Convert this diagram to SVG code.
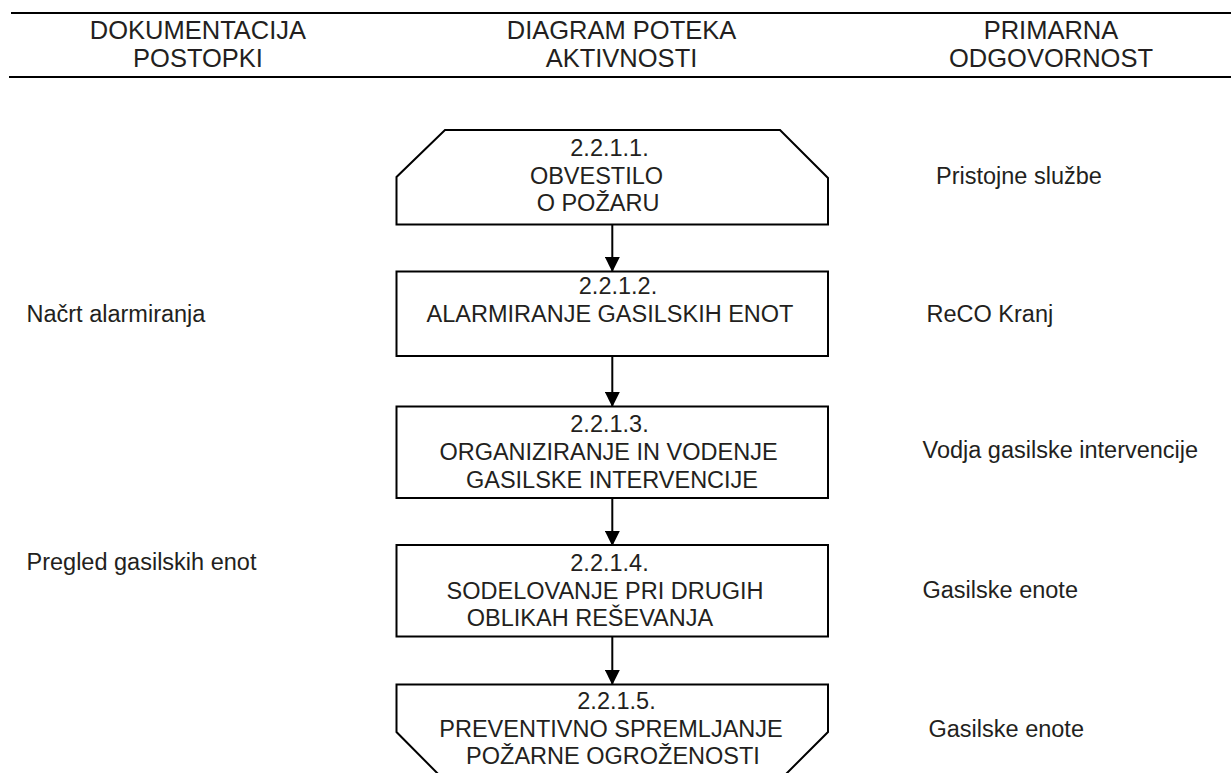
<svg xmlns="http://www.w3.org/2000/svg" width="1231" height="773" viewBox="0 0 1231 773">
<defs>
<style>
.t{font-family:"Liberation Sans",Arial,sans-serif;fill:#231f20;}
.h{font-size:25.5px;text-anchor:middle;}
.b{font-size:23.5px;}
.c{text-anchor:middle;}
.box{fill:none;stroke:#000;stroke-width:2;}
.rule{stroke:#000;stroke-width:2.2;}
.con{stroke:#000;stroke-width:2;fill:none;}
</style>
<marker id="arr" markerWidth="16" markerHeight="15" refX="15" refY="8" orient="auto" markerUnits="userSpaceOnUse" viewBox="0 0 16 16">
<path d="M0,0 L16,8 L0,16 Z" fill="#000"/>
</marker>
</defs>
<rect width="1231" height="773" fill="#fff"/>
<g id="header">
<line class="rule" x1="11" y1="13" x2="1231" y2="13"/>
<line class="rule" x1="9" y1="77" x2="1231" y2="77"/>
<text class="t h" x="198" y="38.5">DOKUMENTACIJA</text>
<text class="t h" x="198" y="66.5">POSTOPKI</text>
<text class="t h" x="621.5" y="38.5">DIAGRAM POTEKA</text>
<text class="t h" x="621.5" y="66.5">AKTIVNOSTI</text>
<text class="t h" x="1051" y="38.5">PRIMARNA</text>
<text class="t h" x="1051" y="66.5">ODGOVORNOST</text>
</g>
<g id="connectors">
<line class="con" x1="612.3" y1="225" x2="612.3" y2="271" marker-end="url(#arr)"/>
<line class="con" x1="612.3" y1="356" x2="612.3" y2="406" marker-end="url(#arr)"/>
<line class="con" x1="612.3" y1="498" x2="612.3" y2="545" marker-end="url(#arr)"/>
<line class="con" x1="612.3" y1="637" x2="612.3" y2="684" marker-end="url(#arr)"/>
</g>
<g id="node1">
<polygon class="box" points="445,130 780,130 828,178 828,224.5 396.5,224.5 396.5,177"/>
<text class="t b c" x="609.5" y="155.5">2.2.1.1.</text>
<text class="t b c" x="596.5" y="184">OBVESTILO</text>
<text class="t b c" x="598" y="210.5">O POŽARU</text>
</g>
<g id="node2">
<rect class="box" x="396.5" y="271.5" width="431.5" height="84.5"/>
<text class="t b c" x="618" y="293.5">2.2.1.2.</text>
<text class="t b c" x="610" y="321.5">ALARMIRANJE GASILSKIH ENOT</text>
</g>
<g id="node3">
<rect class="box" x="396.5" y="406.5" width="431.5" height="91.5"/>
<text class="t b c" x="609.5" y="431.5">2.2.1.3.</text>
<text class="t b c" x="608.5" y="460">ORGANIZIRANJE IN VODENJE</text>
<text class="t b c" x="612" y="487.5">GASILSKE INTERVENCIJE</text>
</g>
<g id="node4">
<rect class="box" x="396.5" y="545" width="431.5" height="91.5"/>
<text class="t b c" x="609.5" y="570.5">2.2.1.4.</text>
<text class="t b c" x="605" y="598.5">SODELOVANJE PRI DRUGIH</text>
<text class="t b c" x="590" y="626">OBLIKAH REŠEVANJA</text>
</g>
<g id="node5">
<polygon class="box" points="396.5,684.5 828,684.5 828,732 770,790 454,790 396.5,732"/>
<text class="t b c" x="616.5" y="708.5">2.2.1.5.</text>
<text class="t b c" x="611" y="736.5">PREVENTIVNO SPREMLJANJE</text>
<text class="t b c" x="613" y="763.5">POŽARNE OGROŽENOSTI</text>
</g>
<g id="left-labels">
<text class="t b" x="26.5" y="321.5">Načrt alarmiranja</text>
<text class="t b" x="26.5" y="570">Pregled gasilskih enot</text>
</g>
<g id="right-labels">
<text class="t b" x="936" y="183.5">Pristojne službe</text>
<text class="t b" x="926.5" y="322">ReCO Kranj</text>
<text class="t b" x="922.5" y="458">Vodja gasilske intervencije</text>
<text class="t b" x="922.5" y="597.5">Gasilske enote</text>
<text class="t b" x="928.5" y="736.5">Gasilske enote</text>
</g>
</svg>
